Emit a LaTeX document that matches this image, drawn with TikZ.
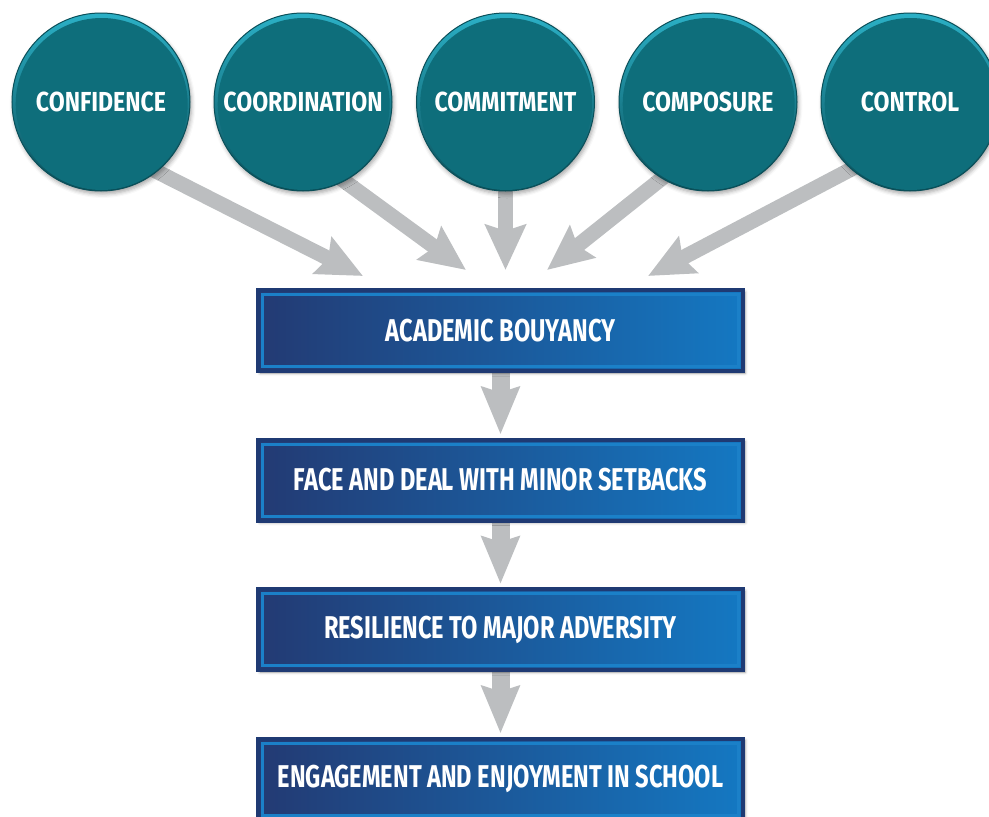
\documentclass[tikz,border=0pt]{standalone}
\usepackage{fontspec}
\newfontfamily\lbl{Fira Sans}[FakeStretch=0.75]
\newfontfamily\lblc{Fira Sans}[FakeStretch=0.84]
\usetikzlibrary{arrows.meta,shadows.blur,calc}
\pgfdeclarelayer{back}
\pgfsetlayers{back,main}
\definecolor{tealmain}{HTML}{0E6E7B}
\definecolor{tealrim}{HTML}{2BB0C6}
\definecolor{tealdark}{HTML}{0A4F59}
\definecolor{arrowgray}{HTML}{BCBEC0}
\definecolor{boxleft}{HTML}{233A73}
\definecolor{boxmid}{HTML}{2A348F}
\definecolor{boxright}{HTML}{1478C2}
\definecolor{boxborder}{HTML}{1F3A73}
\definecolor{boxline}{HTML}{1B80C8}
\begin{document}
\begin{tikzpicture}[x=1pt,y=-1pt,
  circ/.style={circle, minimum size=178pt, inner sep=0pt, draw=tealdark, line width=1pt,
    top color=tealrim, bottom color=tealdark,
    blur shadow={shadow xshift=1.5pt, shadow yshift=-3pt, shadow blur radius=4pt, shadow opacity=35},
    path picture={\fill[tealmain] ($(path picture bounding box.center)+(0.7,2)$) circle[radius=86pt];},
    text=white, font=\lblc\bfseries\fontsize{27.5}{27.5}\selectfont},
  bx/.style={rectangle, minimum width=485pt, minimum height=81pt, inner sep=0pt,
    draw=boxborder, line width=4pt,
    left color=boxleft, middle color=boxmid, right color=boxright,
    blur shadow={shadow xshift=2pt, shadow yshift=-2pt, shadow blur radius=3pt, shadow opacity=40},
    path picture={\draw[boxline, line width=3pt]
      ($(path picture bounding box.north west)+(4.5,4.5)$) rectangle
      ($(path picture bounding box.south east)+(-4.5,-4.5)$);},
    text=white, font=\lbl\bfseries\fontsize{31.5}{31.5}\selectfont},
  garrow/.style={draw=arrowgray, line width=15pt,
    -{Stealth[length=45pt, width=40pt, inset=6pt, fill=arrowgray]}},
  varrow/.style={draw=arrowgray, line width=18pt, shorten >=3pt,
    -{Stealth[length=47pt, width=37pt, inset=5pt, fill=arrowgray]}}
]
\useasboundingbox (0,0) rectangle (989,817);

\node[circ] (c1) at (101,102) {CONFIDENCE};
\node[circ] (c2) at (303,102) {COORDINATION};
\node[circ] (c3) at (505.5,102) {COMMITMENT};
\node[circ] (c4) at (708,102) {COMPOSURE};
\node[circ] (c5) at (910,102) {CONTROL};

\node[bx] (b1) at (500.5,330.5) {ACADEMIC BOUYANCY};
\node[bx] (b2) at (500.5,480) {FACE AND DEAL WITH MINOR SETBACKS};
\node[bx] (b3) at (500.5,629.5) {RESILIENCE TO MAJOR ADVERSITY};
\node[bx] (b4) at (500.5,779) {ENGAGEMENT AND ENJOYMENT IN SCHOOL};

\coordinate (t1) at (363,276);
\coordinate (t2) at (466,270);
\coordinate (t3) at (505.5,270);
\coordinate (t4) at (547,270);
\coordinate (t5) at (648,276);

\begin{pgfonlayer}{back}
\draw[garrow] ($(c1.center)+(29,56)$) -- (t1);
\draw[garrow] ($(c2.center)+(22,65)$) -- (t2);
\draw[garrow] ($(c3.center)+(0,60)$) -- (t3);
\draw[garrow] ($(c4.center)+(-23,58)$) -- (t4);
\draw[garrow] ($(c5.center)+(-30,52)$) -- (t5);
\draw[varrow] (b1.south) -- (b2.north);
\draw[varrow] (b2.south) -- (b3.north);
\draw[varrow] (b3.south) -- (b4.north);
\end{pgfonlayer}
\end{tikzpicture}
\end{document}
